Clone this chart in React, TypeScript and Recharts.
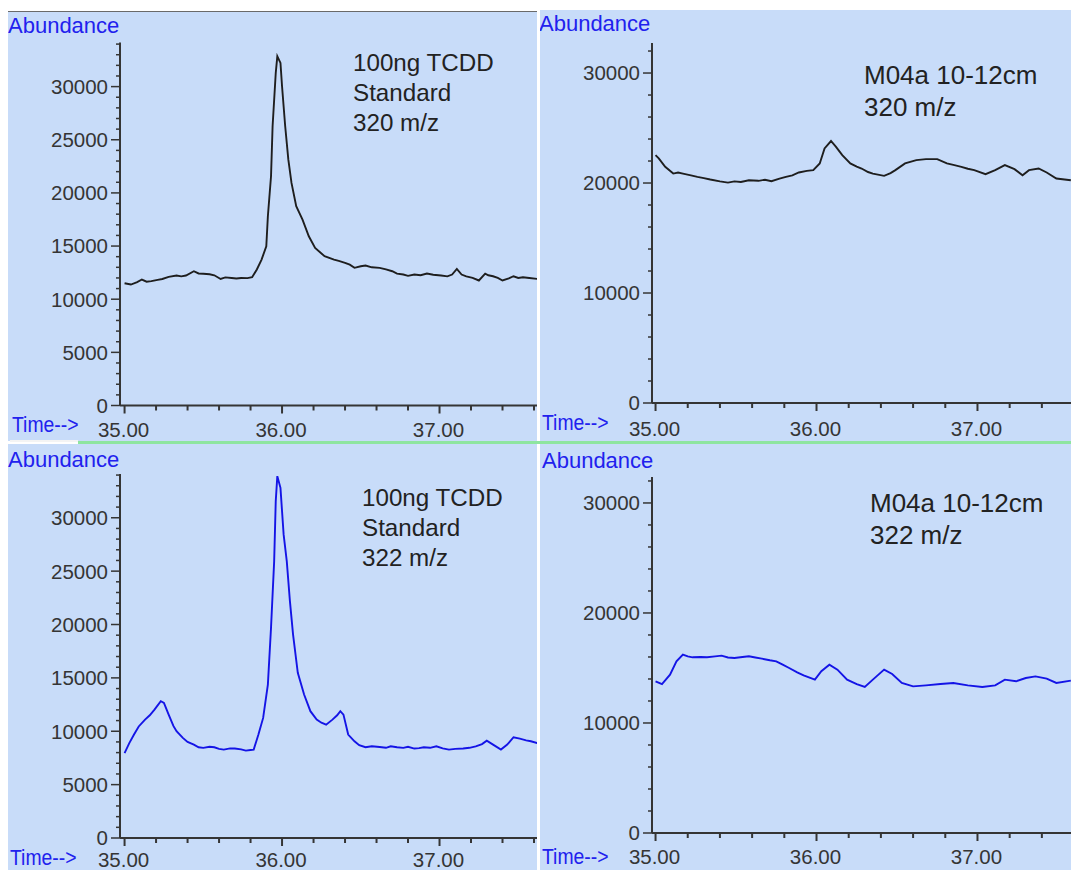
import React from "react";
import { LineChart, Line, XAxis, YAxis } from "recharts";

// 100ng TCDD standard, 320 m/z
const std320Time = [
  35.0, 35.04, 35.08, 35.11, 35.14, 35.17, 35.21, 35.24, 35.28, 35.33, 35.36, 35.39, 35.44, 35.47, 35.5, 35.54,
  35.57, 35.61, 35.64, 35.68, 35.71, 35.74, 35.78, 35.81, 35.84, 35.87, 35.9, 35.91, 35.93, 35.94, 35.96, 35.97,
  35.99, 36.0, 36.02, 36.04, 36.06, 36.09, 36.13, 36.17, 36.21, 36.27, 36.33, 36.36, 36.4, 36.43, 36.46, 36.5,
  36.53, 36.57, 36.62, 36.66, 36.7, 36.73, 36.77, 36.8, 36.84, 36.88, 36.92, 36.96, 37.01, 37.05, 37.08, 37.11,
  37.14, 37.17, 37.21, 37.25, 37.29, 37.31, 37.34, 37.37, 37.4, 37.44, 37.47, 37.5, 37.53, 37.57, 37.62,
];
const std320Abund = [
  11500, 11380, 11600, 11850, 11650, 11700, 11820, 11900, 12100, 12230, 12150, 12230, 12630, 12420, 12400, 12350,
  12250, 11900, 12050, 12000, 11950, 12000, 11980, 12070, 12800, 13730, 14980, 17800, 21570, 26270, 31280, 32850,
  32230, 30030, 26270, 23130, 20940, 18750, 17490, 15920, 14830, 14040, 13730, 13600, 13420, 13250, 12950, 13100,
  13170, 13000, 12950, 12800, 12630, 12400, 12320, 12200, 12320, 12250, 12410, 12300, 12230, 12150, 12320, 12850,
  12320, 12150, 12010, 11760, 12410, 12250, 12160, 12000, 11760, 11950, 12160, 12000, 12070, 12000, 11910,
];

// 100ng TCDD standard, 322 m/z
const std322Time = [
  35.0, 35.03, 35.06, 35.09, 35.13, 35.16, 35.19, 35.23, 35.25, 35.28, 35.31, 35.33, 35.37, 35.4, 35.44, 35.47,
  35.5, 35.54, 35.57, 35.6, 35.63, 35.67, 35.7, 35.74, 35.77, 35.8, 35.82, 35.85, 35.88, 35.91, 35.93, 35.95,
  35.96, 35.97, 35.99, 36.01, 36.03, 36.05, 36.07, 36.1, 36.14, 36.18, 36.22, 36.25, 36.28, 36.32, 36.35, 36.37,
  36.39, 36.42, 36.46, 36.49, 36.53, 36.57, 36.62, 36.66, 36.69, 36.73, 36.77, 36.8, 36.84, 36.87, 36.9, 36.94,
  36.98, 37.02, 37.06, 37.1, 37.15, 37.19, 37.23, 37.27, 37.3, 37.34, 37.39, 37.43, 37.47, 37.51, 37.55, 37.58,
  37.62,
];
const std322Abund = [
  7950, 8890, 9700, 10450, 11090, 11500, 12030, 12810, 12650, 11560, 10500, 10000, 9380, 9000, 8750, 8500,
  8440, 8550, 8500, 8350, 8280, 8400, 8380, 8300, 8190, 8250, 8280, 9690, 11250, 14370, 19690, 25940,
  31560, 33900, 32800, 28440, 25940, 22190, 19060, 15470, 13440, 11880, 11090, 10800, 10620, 11090, 11500, 11880,
  11560, 9690, 9060, 8700, 8500, 8600, 8530, 8450, 8590, 8500, 8440, 8550, 8380, 8420, 8500, 8450,
  8590, 8400, 8280, 8350, 8380, 8450, 8590, 8800, 9120, 8750, 8280, 8750, 9440, 9310, 9150, 9060,
  8890,
];

// M04a 10-12cm, 320 m/z
const m04a320Time = [
  35.0, 35.02, 35.06, 35.11, 35.14, 35.17, 35.22, 35.26, 35.3, 35.34, 35.4, 35.45, 35.49, 35.53, 35.58, 35.64,
  35.68, 35.72, 35.77, 35.81, 35.85, 35.89, 35.94, 35.98, 36.02, 36.05, 36.09, 36.12, 36.16, 36.21, 36.25, 36.28,
  36.32, 36.35, 36.42, 36.46, 36.49, 36.55, 36.62, 36.68, 36.75, 36.81, 36.85, 36.9, 36.94, 36.98, 37.05, 37.11,
  37.17, 37.23, 37.28, 37.32, 37.38, 37.43, 37.49, 37.58,
];
const m04a320Abund = [
  22540, 22240, 21470, 20860, 20950, 20860, 20700, 20560, 20450, 20320, 20150, 20040, 20150, 20100, 20250, 20200,
  20300, 20170, 20400, 20560, 20700, 20960, 21100, 21170, 21780, 23150, 23820, 23300, 22540, 21780, 21500, 21320,
  21000, 20860, 20650, 20900, 21170, 21780, 22080, 22170, 22170, 21780, 21650, 21470, 21300, 21170, 20800, 21170,
  21630, 21260, 20710, 21170, 21320, 20960, 20410, 20250,
];

// M04a 10-12cm, 322 m/z
const m04a322Time = [
  35.0, 35.04, 35.09, 35.13, 35.17, 35.2, 35.23, 35.28, 35.32, 35.37, 35.41, 35.45, 35.49, 35.54, 35.58, 35.62,
  35.66, 35.71, 35.75, 35.79, 35.83, 35.88, 35.92, 35.99, 36.03, 36.08, 36.13, 36.19, 36.25, 36.3, 36.35, 36.42,
  36.47, 36.53, 36.6, 36.68, 36.77, 36.85, 36.94, 37.03, 37.11, 37.17, 37.24, 37.3, 37.36, 37.43, 37.49, 37.58,
];
const m04a322Abund = [
  13790, 13540, 14390, 15600, 16210, 16050, 15970, 16000, 15970, 16050, 16120, 15950, 15910, 16000, 16060, 15950,
  15850, 15700, 15600, 15300, 15000, 14600, 14330, 13940, 14700, 15300, 14850, 13940, 13540, 13270, 13940, 14850,
  14450, 13640, 13330, 13420, 13540, 13640, 13420, 13270, 13420, 13940, 13790, 14090, 14240, 14030, 13640, 13850,
];

const timeTicks = [35.0, 35.2, 35.4, 35.6, 35.8, 36.0, 36.2, 36.4, 36.6, 36.8, 37.0, 37.2, 37.4, 37.6];
const timeLabels = [35, 36, 37];
const stdAbundLabels = [0, 5000, 10000, 15000, 20000, 25000, 30000];
const sampleAbundLabels = [0, 10000, 20000, 30000];

const BG = "#C8DCF9";
const INK = "#353535";
const BLUE = "#2121EE";
const FONT = "'Liberation Sans', Arial, sans-serif";

const zip = (t: number[], v: number[]) => t.map((x, i) => ({ t: x, v: v[i] }));

function makeYTick(labels: number[]) {
  return (props: any) => {
    const { x, y, payload } = props;
    const major = labels.includes(payload.value);
    return (
      <g>
        <line x1={x} x2={x - (major ? 9 : 4)} y1={y} y2={y} stroke={INK} strokeWidth={1.5} />
        {major && (
          <text x={x - 12} y={y} dy="0.36em" textAnchor="end" fontSize={20.5} fontFamily={FONT} fill={INK}>
            {payload.value}
          </text>
        )}
      </g>
    );
  };
}

function makeXTick(labelDrop: number) {
  return (props: any) => {
    const { x, y, payload } = props;
    const v = payload.value;
    const major = timeLabels.some((l) => Math.abs(l - v) < 1e-6);
    return (
      <g>
        <line x1={x} x2={x} y1={y} y2={y + (major ? 8 : 5)} stroke={INK} strokeWidth={2} />
        {major && (
          <text x={x - 1} y={y + labelDrop} textAnchor="middle" fontSize={20.5} fontFamily={FONT} fill={INK}>
            {v.toFixed(2)}
          </text>
        )}
      </g>
    );
  };
}

interface PanelProps {
  left: number;
  top: number;
  width: number;
  height: number;
  axisLeft: number;
  plotTop: number;
  xAxisHeight: number;
  xDomain: [number, number];
  yMax: number;
  yStep: number;
  yLabels: number[];
  labelDrop: number;
  data: { t: number; v: number }[];
  color: string;
  notes: string[];
  noteLeft: number;
  noteTop: number;
  noteSize: number;
  noteLine: number;
  abundLeft: number;
  abundTop: number;
  timeLeft: number;
  timeTop: number;
  topBorder?: boolean;
}

function Panel(p: PanelProps) {
  const yTicks: number[] = [];
  for (let v = 0; v <= p.yMax; v += p.yStep) yTicks.push(v);
  return (
    <div
      style={{
        position: "absolute",
        left: p.left,
        top: p.top,
        width: p.width,
        height: p.height,
        background: BG,
        overflow: "hidden",
        borderTop: p.topBorder ? "1.5px solid #6a6a6a" : undefined,
        boxSizing: "border-box",
      }}
    >
      <LineChart
        width={p.width}
        height={p.height - (p.topBorder ? 1.5 : 0)}
        data={p.data}
        margin={{ top: p.plotTop, right: 0, bottom: 0, left: 0 }}
      >
        <XAxis
          dataKey="t"
          type="number"
          domain={p.xDomain}
          allowDataOverflow
          ticks={timeTicks}
          interval={0}
          height={p.xAxisHeight}
          tickSize={0}
          tickMargin={0}
          tickLine={false}
          axisLine={{ stroke: INK, strokeWidth: 2 }}
          tick={makeXTick(p.labelDrop)}
        />
        <YAxis
          type="number"
          domain={[0, p.yMax]}
          allowDataOverflow
          ticks={yTicks}
          interval={0}
          width={p.axisLeft}
          tickSize={0}
          tickMargin={0}
          tickLine={false}
          axisLine={{ stroke: INK, strokeWidth: 2 }}
          tick={makeYTick(p.yLabels)}
        />
        <Line
          type="linear"
          dataKey="v"
          stroke={p.color}
          strokeWidth={1.9}
          dot={false}
          isAnimationActive={false}
        />
      </LineChart>
      <div
        style={{
          position: "absolute",
          left: p.abundLeft,
          top: p.abundTop,
          fontFamily: FONT,
          fontSize: 22,
          lineHeight: "22px",
          color: BLUE,
          whiteSpace: "nowrap",
        }}
      >
        Abundance
      </div>
      <div
        style={{
          position: "absolute",
          left: p.timeLeft,
          top: p.timeTop,
          fontFamily: FONT,
          fontSize: 22,
          lineHeight: "22px",
          color: BLUE,
          whiteSpace: "nowrap",
          transform: "scaleX(0.88)",
          transformOrigin: "left top",
        }}
      >
        Time--&gt;
      </div>
      <div
        style={{
          position: "absolute",
          left: p.noteLeft,
          top: p.noteTop,
          fontFamily: FONT,
          fontSize: p.noteSize,
          lineHeight: `${p.noteLine}px`,
          color: "#222",
          whiteSpace: "nowrap",
        }}
      >
        {p.notes.map((n) => (
          <div key={n}>{n}</div>
        ))}
      </div>
    </div>
  );
}

export default function App() {
  return (
    <div style={{ position: "fixed", left: 0, top: 0, width: 1071, height: 870, background: "#fff", overflow: "hidden" }}>
      <Panel
        left={8}
        top={11}
        width={529}
        height={430}
        axisLeft={112}
        plotTop={30.5}
        xAxisHeight={35}
        xDomain={[34.971, 37.619]}
        yMax={34150}
        yStep={1000}
        yLabels={stdAbundLabels}
        labelDrop={31}
        data={zip(std320Time, std320Abund)}
        color="#1e1e1e"
        notes={["100ng TCDD", "Standard", "320 m/z"]}
        noteLeft={345}
        noteTop={36}
        noteSize={24.2}
        noteLine={30}
        abundLeft={0}
        abundTop={3}
        timeLeft={4}
        timeTop={402}
        topBorder
      />
      <Panel
        left={540}
        top={10}
        width={531}
        height={431}
        axisLeft={112}
        plotTop={33}
        xAxisHeight={38}
        xDomain={[34.978, 37.581]}
        yMax={32730}
        yStep={2000}
        yLabels={sampleAbundLabels}
        labelDrop={33}
        data={zip(m04a320Time, m04a320Abund)}
        color="#1e1e1e"
        notes={["M04a 10-12cm", "320 m/z"]}
        noteLeft={324}
        noteTop={49}
        noteSize={26}
        noteLine={32}
        abundLeft={-1}
        abundTop={3}
        timeLeft={2}
        timeTop={402}
      />
      <Panel
        left={8}
        top={444}
        width={529}
        height={426}
        axisLeft={112}
        plotTop={30}
        xAxisHeight={32}
        xDomain={[34.971, 37.619]}
        yMax={34100}
        yStep={1000}
        yLabels={stdAbundLabels}
        labelDrop={29}
        data={zip(std322Time, std322Abund)}
        color={"#1414E6"}
        notes={["100ng TCDD", "Standard", "322 m/z"]}
        noteLeft={354}
        noteTop={39}
        noteSize={24.2}
        noteLine={30}
        abundLeft={0}
        abundTop={5}
        timeLeft={2}
        timeTop={403}
      />
      <Panel
        left={540}
        top={444}
        width={531}
        height={426}
        axisLeft={112}
        plotTop={33}
        xAxisHeight={37}
        xDomain={[34.978, 37.581]}
        yMax={32360}
        yStep={2000}
        yLabels={sampleAbundLabels}
        labelDrop={31}
        data={zip(m04a322Time, m04a322Abund)}
        color={"#1414E6"}
        notes={["M04a 10-12cm", "322 m/z"]}
        noteLeft={330}
        noteTop={43}
        noteSize={26}
        noteLine={32}
        abundLeft={2}
        abundTop={6}
        timeLeft={2}
        timeTop={402}
      />
      <div style={{ position: "absolute", left: 78, top: 441, width: 993, height: 2.5, background: "#8EE5A0" }} />
      <div style={{ position: "absolute", left: 10, top: 440, width: 68, height: 1.5, background: "#f4f4f4" }} />
    </div>
  );
}
